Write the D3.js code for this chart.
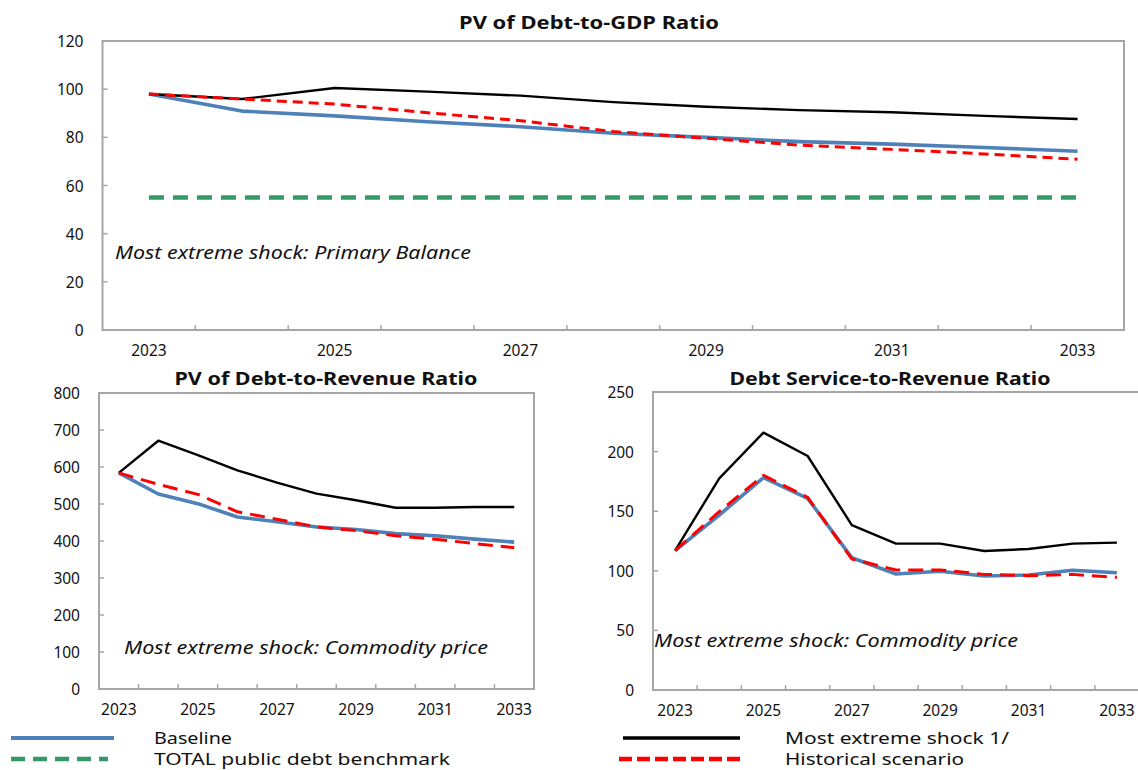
<!DOCTYPE html>
<html>
<head>
<meta charset="utf-8">
<script src="https://cdn.jsdelivr.net/npm/d3@7"></script>
<style>
  html, body { margin: 0; padding: 0; background: #fff; }
  svg { display: block; }
  text { font-family: "Noto Sans", "Open Sans", sans-serif; fill: #111; }
</style>
</head>
<body>
<svg id="chart" width="1138" height="770"></svg>
<script>
// ---------- DATA ----------
const years = ["2023","2024","2025","2026","2027","2028","2029","2030","2031","2032","2033"];
const xTickLabels = ["2023","2025","2027","2029","2031","2033"];

const gdpBaseline   = [98, 90.9, 88.9, 86.5, 84.4, 81.7, 80.0, 78.2, 77.2, 75.8, 74.2];
const gdpShock      = [98, 95.9, 100.5, 99.0, 97.3, 94.6, 92.7, 91.3, 90.4, 88.9, 87.6];
const gdpHistorical = [98, 95.9, 93.8, 90.2, 86.9, 82.4, 79.6, 76.8, 75.0, 73.1, 70.9];
const gdpBenchmark  = [55, 55, 55, 55, 55, 55, 55, 55, 55, 55, 55];
const gdpTicks = [0, 20, 40, 60, 80, 100, 120];

const revBaseline   = [584, 527, 501, 465, 452, 438, 431, 420, 414, 405, 397];
const revShock      = [584, 671, 632, 591, 558, 528, 510, 490, 490, 492, 492];
const revHistorical = [584, 553, 526, 479, 459, 438, 428, 414, 405, 393, 382];
const revTicks = [0, 100, 200, 300, 400, 500, 600, 700, 800];

const dsBaseline   = [117, 146.8, 178.1, 160.8, 111.0, 97.3, 99.6, 95.6, 96.5, 100.4, 98.4];
const dsShock      = [117, 177.6, 215.9, 196.3, 138.4, 122.8, 122.8, 116.6, 118.3, 122.8, 123.6];
const dsHistorical = [117, 149.6, 180.1, 161.6, 109.9, 100.7, 100.7, 97.0, 95.9, 97.0, 94.5];
const dsTicks = [0, 50, 100, 150, 200, 250];

const legendItems = [
  {key: "baseline", label: "Baseline"},
  {key: "benchmark", label: "TOTAL public debt benchmark"},
  {key: "shock", label: "Most extreme shock 1/"},
  {key: "historical", label: "Historical scenario"}
];

// ---------- STYLES ----------
const styles = {
  baseline:   {stroke: "#4f81b9", width: 3.6, dash: null},
  shock:      {stroke: "#000000", width: 2.4, dash: null},
  historical: {stroke: "#ff0000", width: 3, dash: "11,6"},
  benchmark:  {stroke: "#339966", width: 4.5, dash: "15,9"}
};
const order = ["benchmark", "baseline", "shock", "historical"];

const svg = d3.select("#chart");

function panel(cfg) {
  const g = svg.append("g");
  const x = d3.scaleBand().domain(years).range([cfg.left, cfg.right]).paddingInner(0).paddingOuter(0);
  const y = d3.scaleLinear().domain([0, cfg.max]).range([cfg.bottom, cfg.top]);

  g.append("rect")
    .attr("x", cfg.left).attr("y", cfg.top)
    .attr("width", cfg.right - cfg.left).attr("height", cfg.bottom - cfg.top)
    .attr("fill", "none").attr("stroke", "#a6a6a6").attr("stroke-width", 2);

  g.selectAll(".yt").data(cfg.ticks.filter(t => t > 0 && t < cfg.max)).enter().append("line")
    .attr("x1", cfg.left).attr("x2", cfg.left + 5)
    .attr("y1", d => y(d)).attr("y2", d => y(d))
    .attr("stroke", "#a6a6a6").attr("stroke-width", 1.5);
  g.selectAll(".yl").data(cfg.ticks).enter().append("text")
    .attr("x", cfg.left - 19).attr("y", d => y(d))
    .attr("text-anchor", "end").attr("dominant-baseline", "central")
    .style("font-size", "15.5px")
    .text(d => d);

  const bounds = years.slice(1).map(yr => x(yr));
  g.selectAll(".xt").data(bounds).enter().append("line")
    .attr("x1", d => d).attr("x2", d => d)
    .attr("y1", cfg.bottom).attr("y2", cfg.bottom - 5)
    .attr("stroke", "#a6a6a6").attr("stroke-width", 1.5);
  g.selectAll(".xl").data(xTickLabels).enter().append("text")
    .attr("x", d => x(d) + x.bandwidth() / 2).attr("y", cfg.bottom + 20)
    .attr("text-anchor", "middle").attr("dominant-baseline", "central")
    .style("font-size", "15.5px")
    .text(d => d);

  g.append("text")
    .attr("x", cfg.titleX).attr("y", cfg.titleY)
    .attr("text-anchor", "middle")
    .style("font-size", "17.5px").style("font-weight", "bold")
    .attr("textLength", cfg.titleLen).attr("lengthAdjust", "spacingAndGlyphs")
    .text(cfg.title);

  g.append("text")
    .attr("x", cfg.noteX).attr("y", cfg.noteY)
    .style("font-size", "18px").style("font-style", "italic")
    .attr("textLength", cfg.noteLen).attr("lengthAdjust", "spacingAndGlyphs")
    .text(cfg.note);

  const line = d3.line().x((d, i) => x(years[i]) + x.bandwidth() / 2).y(d => y(d));
  order.forEach(k => {
    if (!cfg.series[k]) return;
    const s = styles[k];
    g.append("path")
      .datum(cfg.series[k])
      .attr("d", line)
      .attr("fill", "none")
      .attr("stroke", s.stroke)
      .attr("stroke-width", s.width)
      .attr("stroke-linejoin", "round")
      .attr("stroke-dasharray", k === "historical" ? cfg.redDash : s.dash);
  });
}

panel({
  left: 102.5, right: 1124, top: 41, bottom: 330, max: 120, ticks: gdpTicks,
  title: "PV of Debt-to-GDP Ratio", titleX: 589, titleY: 29, titleLen: 260,
  note: "Most extreme shock: Primary Balance", noteX: 115, noteY: 259, noteLen: 356,
  redDash: "10,6",
  series: {baseline: gdpBaseline, shock: gdpShock, historical: gdpHistorical, benchmark: gdpBenchmark}
});

panel({
  left: 99, right: 534, top: 393, bottom: 689, max: 800, ticks: revTicks,
  title: "PV of Debt-to-Revenue Ratio", titleX: 326, titleY: 385, titleLen: 303,
  note: "Most extreme shock: Commodity price", noteX: 124, noteY: 654, noteLen: 364,
  redDash: "15,8",
  series: {baseline: revBaseline, shock: revShock, historical: revHistorical}
});

panel({
  left: 653, right: 1139, top: 392, bottom: 690, max: 250, ticks: dsTicks,
  title: "Debt Service-to-Revenue Ratio", titleX: 890, titleY: 385, titleLen: 321,
  note: "Most extreme shock: Commodity price", noteX: 654, noteY: 647, noteLen: 364,
  redDash: "15,8",
  series: {baseline: dsBaseline, shock: dsShock, historical: dsHistorical}
});

// ---------- LEGEND ----------
const legendPos = {
  baseline:   {x1: 11, x2: 114, y: 738, tx: 154, tl: 78},
  benchmark:  {x1: 11, x2: 108, y: 759, tx: 154, tl: 296},
  shock:      {x1: 623, x2: 740, y: 738, tx: 785, tl: 224},
  historical: {x1: 619, x2: 742, y: 759, tx: 785, tl: 179}
};
const lg = svg.append("g");
legendItems.forEach(item => {
  const p = legendPos[item.key];
  const s = styles[item.key];
  lg.append("line")
    .attr("x1", p.x1).attr("x2", p.x2).attr("y1", p.y).attr("y2", p.y)
    .attr("stroke", s.stroke)
    .attr("stroke-width", item.key === "baseline" ? 4 : (item.key === "shock" ? 3.5 : 4.5))
    .attr("stroke-dasharray", item.key === "historical" ? "13,5" : (item.key === "benchmark" ? "14,8" : null));
  lg.append("text")
    .attr("x", p.tx).attr("y", p.y)
    .attr("dominant-baseline", "central")
    .style("font-size", "16px")
    .attr("textLength", p.tl).attr("lengthAdjust", "spacingAndGlyphs")
    .text(item.label);
});
</script>
</body>
</html>
